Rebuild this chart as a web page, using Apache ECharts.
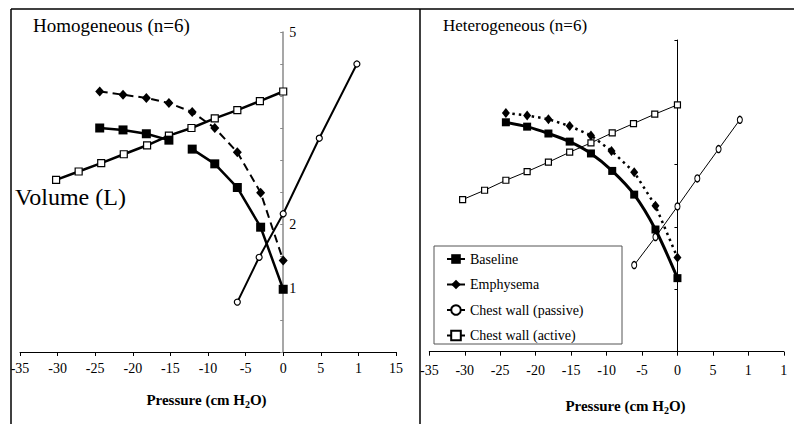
<!DOCTYPE html>
<html>
<head>
<meta charset="utf-8">
<script src="https://cdn.jsdelivr.net/npm/echarts@6.0.0/dist/echarts.min.js"></script>
<style>
  html, body { margin: 0; padding: 0; background: #fff; }
  #chart { width: 794px; height: 424px; }
</style>
</head>
<body>
<div id="chart"></div>
<script>
// ---------- Data ----------
const seriesNames = ['Baseline', 'Emphysema', 'Chest wall (passive)', 'Chest wall (active)'];

// Homogeneous panel (left)
const leftBaseP = [-24.4, -21.3, -18.2, -15.2, -12.1, -9.1, -6.1, -3.0, 0];
const leftBaseV = [3.50, 3.47, 3.41, 3.31, 3.17, 2.94, 2.57, 1.95, 0.98];
const leftEmphP = [-24.4, -21.3, -18.2, -15.2, -12.1, -9.1, -6.1, -3.0, 0];
const leftEmphV = [4.07, 4.02, 3.97, 3.89, 3.75, 3.50, 3.12, 2.49, 1.43];
const leftPassP = [-6.1, -3.2, 0, 4.8, 9.8];
const leftPassV = [0.78, 1.48, 2.16, 3.34, 4.50];
const leftActP = [-30.2, -27.2, -24.2, -21.2, -18.1, -15.2, -12.2, -9.1, -6.1, -3.1, 0];
const leftActV = [2.69, 2.82, 2.95, 3.09, 3.23, 3.38, 3.50, 3.65, 3.78, 3.92, 4.07];
const leftBaseGapAfter = 3; // line segment missing after this point in the reference

// Heterogeneous panel (right)
const rightBaseP = [-24.2, -21.2, -18.2, -15.2, -12.2, -9.2, -6.1, -3.1, 0];
const rightBaseV = [3.68, 3.61, 3.50, 3.37, 3.18, 2.90, 2.52, 1.96, 1.18];
const rightEmphP = [-24.2, -21.2, -18.2, -15.2, -12.2, -9.3, -6.1, -3.1, 0];
const rightEmphV = [3.83, 3.79, 3.73, 3.62, 3.47, 3.22, 2.88, 2.34, 1.51];
const rightPassP = [-6.1, -3.1, 0, 2.8, 5.8, 8.8];
const rightPassV = [1.39, 1.84, 2.33, 2.78, 3.25, 3.72];
const rightActP = [-30.3, -27.2, -24.2, -21.2, -18.2, -15.2, -12.2, -9.2, -6.2, -3.2, 0];
const rightActV = [2.44, 2.59, 2.75, 2.89, 3.04, 3.20, 3.35, 3.51, 3.66, 3.81, 3.96];

// Tick labels as printed in the reference
const leftXLabels  = ['-35', '-30', '-25', '-20', '-15', '-10', '-5', '0', '5', '1', '15'];
const rightXLabels = ['-35', '-30', '-25', '-20', '-15', '-10', '-5', '0', '5', '1', '1'];
const leftYLabels  = ['', '', '1', '', '2', '', '', '', '', '', '5']; // values 0..5 step 0.5

// ---------- Layout ----------
const SERIF = 'Liberation Serif';
const X_MIN = -35, X_MAX = 15;
const LEFT_GRID = { left: 20, top: 32, width: 376, height: 320 };
const RIGHT_GRID = { left: 429.3, top: 40, width: 354.5, height: 311.7 };
// the left panel's volume axis sits at pressure 0
const leftYOffset = -((0 - X_MIN) / (X_MAX - X_MIN)) * LEFT_GRID.width;

function pairs(xs, ys, gapAfter) {
  const out = [];
  xs.forEach((x, i) => {
    out.push([x, ys[i]]);
    if (gapAfter === i) out.push(['-', '-']);
  });
  return out;
}
const filledSq = { color: '#000', borderColor: '#000', borderWidth: 0 };
const openSym = { color: '#fff', borderColor: '#000', borderWidth: 1.2 };

function xAxisCfg(gridIndex, labels, margin) {
  return {
    type: 'value', gridIndex, min: X_MIN, max: X_MAX, interval: 5,
    axisLine: { onZero: false, lineStyle: { color: '#000', width: 1 } },
    axisTick: { length: 4, lineStyle: { color: '#000', width: 1 } },
    splitLine: { show: false },
    axisLabel: {
      margin, fontFamily: SERIF, fontSize: 14, color: '#000',
      formatter: v => labels[Math.round((v - X_MIN) / 5)]
    }
  };
}

const chart = echarts.init(document.getElementById('chart'), null, { renderer: 'svg' });

const option = {
  backgroundColor: '#fff',
  animation: false,
  grid: [
    Object.assign({ outerBoundsMode: 'none', containLabel: false }, LEFT_GRID),
    Object.assign({ outerBoundsMode: 'none', containLabel: false }, RIGHT_GRID)
  ],
  xAxis: [xAxisCfg(0, leftXLabels, 9), xAxisCfg(1, rightXLabels, 12)],
  yAxis: [
    {
      type: 'value', gridIndex: 0, min: 0, max: 5, interval: 0.5,
      position: 'left', offset: leftYOffset,
      axisLine: { show: true, onZero: false, lineStyle: { color: '#8a8a8a', width: 1.5 } },
      axisTick: { show: true, length: 3, lineStyle: { color: '#8a8a8a' } },
      splitLine: { show: false },
      axisLabel: {
        inside: true, margin: 6, fontFamily: SERIF, fontSize: 14, color: '#000',
        formatter: v => leftYLabels[Math.round(v / 0.5)]
      }
    },
    {
      type: 'value', gridIndex: 1, min: 0, max: 5, interval: 1,
      axisLine: { show: true, onZero: true, lineStyle: { color: '#000', width: 1 } },
      axisTick: { show: true, length: 3, lineStyle: { color: '#000' } },
      splitLine: { show: false },
      axisLabel: { show: false }
    }
  ],
  legend: {
    show: true, orient: 'vertical', left: 446, top: 252, padding: 0,
    itemWidth: 18, itemHeight: 12, itemGap: 11.5, selectedMode: false, z: 10,
    textStyle: { fontFamily: SERIF, fontSize: 14, color: '#000' },
    data: [
      { name: seriesNames[0] },
      { name: seriesNames[1], lineStyle: { type: 'solid', width: 2 } },
      { name: seriesNames[2] },
      { name: seriesNames[3] }
    ]
  },
  series: [
    // right panel first so the legend takes its icons from these
    {
      name: seriesNames[0], type: 'line', xAxisIndex: 1, yAxisIndex: 1,
      data: pairs(rightBaseP, rightBaseV), smooth: 0.3,
      symbol: 'rect', symbolSize: 8, itemStyle: filledSq,
      lineStyle: { color: '#000', width: 3 }, z: 4
    },
    {
      name: seriesNames[1], type: 'line', xAxisIndex: 1, yAxisIndex: 1,
      data: pairs(rightEmphP, rightEmphV),
      symbol: 'diamond', symbolSize: [8, 10], itemStyle: filledSq,
      lineStyle: { color: '#000', width: 2.5, type: [2.5, 4] }, z: 4
    },
    {
      name: seriesNames[2], type: 'line', xAxisIndex: 1, yAxisIndex: 1,
      data: pairs(rightPassP, rightPassV),
      symbol: 'circle', symbolSize: [5, 7], itemStyle: openSym,
      lineStyle: { color: '#000', width: 1 }, z: 3
    },
    {
      name: seriesNames[3], type: 'line', xAxisIndex: 1, yAxisIndex: 1,
      data: pairs(rightActP, rightActV),
      symbol: 'rect', symbolSize: 6, itemStyle: openSym,
      lineStyle: { color: '#000', width: 1 }, z: 3
    },
    // left panel
    {
      name: seriesNames[0], type: 'line', xAxisIndex: 0, yAxisIndex: 0,
      data: pairs(leftBaseP, leftBaseV, leftBaseGapAfter), connectNulls: false,
      symbol: 'rect', symbolSize: 9, itemStyle: filledSq,
      lineStyle: { color: '#000', width: 2.5 }, z: 4
    },
    {
      name: seriesNames[1], type: 'line', xAxisIndex: 0, yAxisIndex: 0,
      data: pairs(leftEmphP, leftEmphV),
      symbol: 'diamond', symbolSize: [9, 10], itemStyle: filledSq,
      lineStyle: { color: '#000', width: 2, type: [8, 5] }, z: 4
    },
    {
      name: seriesNames[2], type: 'line', xAxisIndex: 0, yAxisIndex: 0,
      data: pairs(leftPassP, leftPassV),
      symbol: 'circle', symbolSize: 6, itemStyle: openSym,
      lineStyle: { color: '#000', width: 2 }, z: 3
    },
    {
      name: seriesNames[3], type: 'line', xAxisIndex: 0, yAxisIndex: 0,
      data: pairs(leftActP, leftActV),
      symbol: 'rect', symbolSize: 7, itemStyle: openSym,
      lineStyle: { color: '#000', width: 2.5 }, z: 3
    }
  ],
  graphic: [
    // frame lines
    { type: 'line', shape: { x1: 11, y1: 9, x2: 794, y2: 9 }, style: { stroke: '#000', lineWidth: 1.5 }, silent: true },
    { type: 'line', shape: { x1: 11, y1: 9, x2: 11, y2: 424 }, style: { stroke: '#000', lineWidth: 1.5 }, silent: true },
    { type: 'line', shape: { x1: 420, y1: 9, x2: 420, y2: 424 }, style: { stroke: '#000', lineWidth: 1.5 }, silent: true },
    // legend box
    { type: 'rect', shape: { x: 434, y: 246, width: 188, height: 98 }, style: { fill: '#fff', stroke: '#555', lineWidth: 1 }, z: 1, silent: true },
    // titles
    { type: 'text', x: 33, y: 25, style: { text: 'Homogeneous (n=6)', fontFamily: SERIF, fontSize: 19, fill: '#000', verticalAlign: 'middle' } },
    { type: 'text', x: 443, y: 25, style: { text: 'Heterogeneous (n=6)', fontFamily: SERIF, fontSize: 17, fill: '#000', verticalAlign: 'middle' } },
    { type: 'text', x: 15, y: 197, style: { text: 'Volume (L)', fontFamily: SERIF, fontSize: 24, fill: '#000', verticalAlign: 'middle' } },
    {
      type: 'text', x: 206.5, y: 400,
      style: {
        text: '{b|Pressure (cm H}{s|2}{b|O)}', align: 'center', verticalAlign: 'middle',
        rich: {
          b: { fontFamily: SERIF, fontSize: 15, fontWeight: 'bold', fill: '#000', lineHeight: 18, verticalAlign: 'middle' },
          s: { fontFamily: SERIF, fontSize: 10, fontWeight: 'bold', fill: '#000', lineHeight: 18, verticalAlign: 'bottom' }
        }
      }
    },
    {
      type: 'text', x: 625.5, y: 406,
      style: {
        text: '{b|Pressure (cm H}{s|2}{b|O)}', align: 'center', verticalAlign: 'middle',
        rich: {
          b: { fontFamily: SERIF, fontSize: 15, fontWeight: 'bold', fill: '#000', lineHeight: 18, verticalAlign: 'middle' },
          s: { fontFamily: SERIF, fontSize: 10, fontWeight: 'bold', fill: '#000', lineHeight: 18, verticalAlign: 'bottom' }
        }
      }
    }
  ]
};
chart.setOption(option);
</script>
</body>
</html>
